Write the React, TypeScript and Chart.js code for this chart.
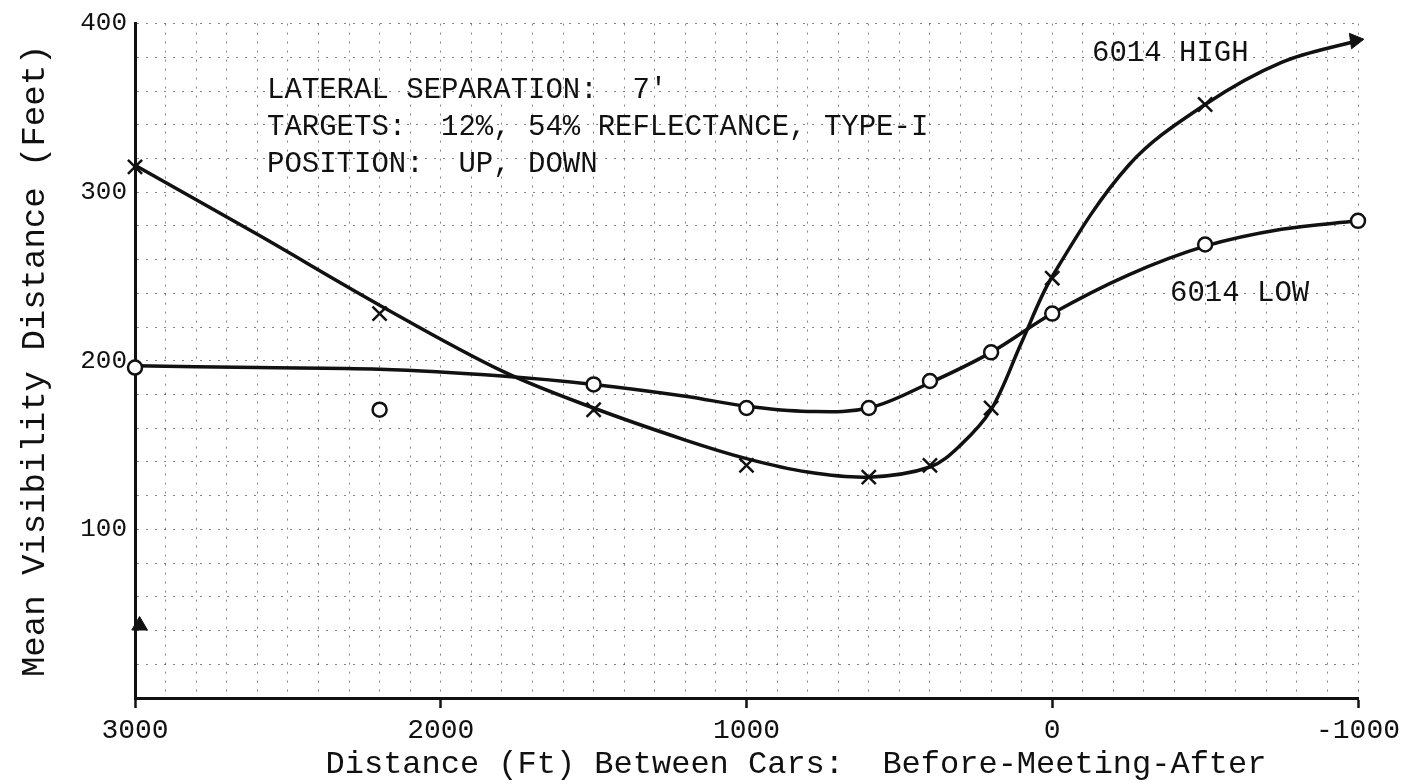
import React, { useEffect, useRef } from "react";
import { Chart, registerables } from "chart.js";

Chart.register(...registerables);

// ---- data ----
const markerX = [3000, 2200, 1500, 1000, 600, 400, 200, 0, -500, -1000];
const highMarkerX = [3000, 2200, 1500, 1000, 600, 400, 200, 0, -500];
const highMarkers = [315, 228, 171, 138, 131, 138, 172, 249, 352];
const lowMarkers = [196, 171, 186, 172, 172, 188, 205, 228, 269, 283];

const highCurveX = [3000, 2600, 2200, 1800, 1500, 1200, 1000, 800, 600, 400, 300, 200, 100, 0, -250, -500, -750, -1000];
const highCurveY = [316, 275, 233, 194, 172, 153, 142, 134, 131, 137, 150, 171, 211, 250, 316, 352, 377, 390];
const lowCurveX = [3000, 2600, 2200, 1800, 1500, 1200, 1000, 800, 600, 400, 200, 0, -250, -500, -750, -1000];
const lowCurveY = [197, 196, 195, 191, 186, 179, 173, 170, 172, 187, 205, 228, 251, 268, 278, 283];

const arrowPoint = [{ x: -990, y: 390 }];
const axisMarker = [{ x: 2985, y: 43 }];

const xTickLabels = [3000, 2000, 1000, 0, -1000];
const yTickLabels = [100, 200, 300, 400];

const noteLines = [
  "LATERAL SEPARATION:  7'",
  "TARGETS:  12%, 54% REFLECTANCE, TYPE-I",
  "POSITION:  UP, DOWN",
];
const highLabel = "6014 HIGH";
const lowLabel = "6014 LOW";
const xTitle = "Distance (Ft) Between Cars:  Before-Meeting-After";
const yTitle = "Mean Visibility Distance (Feet)";

const MONO = "'Liberation Mono', 'DejaVu Sans Mono', monospace";

const zip = (xs: number[], ys: number[]) => xs.map((x, i) => ({ x, y: ys[i] }));

const textPlugin = {
  id: "notes",
  afterDraw(chart: any) {
    const { ctx, chartArea } = chart;
    ctx.save();
    ctx.fillStyle = "#111";
    ctx.textAlign = "left";
    ctx.textBaseline = "alphabetic";
    ctx.font = `29px ${MONO}`;
    const left = chartArea.left + 132;
    noteLines.forEach((t, i) => ctx.fillText(t, left, chartArea.top + 74 + i * 37));
    ctx.fillText(highLabel, chartArea.left + 957, chartArea.top + 37);
    ctx.fillText(lowLabel, chartArea.left + 1035, chartArea.top + 277);
    ctx.font = `32px ${MONO}`;
    ctx.textAlign = "center";
    ctx.textBaseline = "middle";
    ctx.fillText(xTitle, chartArea.left + 661, chartArea.bottom + 67);
    ctx.restore();
  },
};

export default function App() {
  const ref = useRef<HTMLCanvasElement | null>(null);

  useEffect(() => {
    if (!ref.current) return;
    const chart = new Chart(ref.current, {
      type: "scatter",
      data: {
        datasets: [
          {
            label: "6014 HIGH points",
            data: zip(highMarkerX, highMarkers),
            pointStyle: "crossRot",
            pointRadius: 10,
            borderColor: "#111",
            backgroundColor: "#111",
            pointBorderWidth: 2.5,
            showLine: false,
          },
          {
            label: "6014 LOW points",
            data: zip(markerX, lowMarkers),
            pointStyle: "circle",
            pointRadius: 7,
            borderColor: "#111",
            backgroundColor: "#fff",
            pointBorderWidth: 2.5,
            showLine: false,
          },
          {
            label: "arrow",
            data: arrowPoint,
            pointStyle: "triangle",
            rotation: 82,
            pointRadius: 9,
            borderColor: "#111",
            backgroundColor: "#111",
            showLine: false,
          },
          {
            label: "axis marker",
            data: axisMarker,
            pointStyle: "triangle",
            pointRadius: 9,
            borderColor: "#111",
            backgroundColor: "#111",
            showLine: false,
          },
          {
            label: "6014 HIGH",
            data: zip(highCurveX, highCurveY),
            showLine: true,
            borderColor: "#111",
            borderWidth: 3.5,
            pointRadius: 0,
            tension: 0.35,
          },
          {
            label: "6014 LOW",
            data: zip(lowCurveX, lowCurveY),
            showLine: true,
            borderColor: "#111",
            borderWidth: 3.5,
            pointRadius: 0,
            tension: 0.35,
          },
        ],
      },
      options: {
        animation: false,
        responsive: false,
        clip: false as any,
        layout: { padding: { top: 20, right: 52, left: 0, bottom: 0 } },
        plugins: { legend: { display: false }, tooltip: { enabled: false } },
        scales: {
          x: {
            type: "linear",
            reverse: true,
            min: -1000,
            max: 3000,
            afterFit: (s: any) => {
              s.height = 86;
            },
            ticks: {
              stepSize: 100,
              autoSkip: false,
              maxRotation: 0,
              padding: 6,
              color: "#111",
              font: { family: MONO, size: 28 },
              callback: (v: any) => (xTickLabels.includes(Number(v)) ? String(v) : ""),
            },
            grid: {
              color: "rgba(50,50,50,0.6)",
              lineWidth: 1,
              drawTicks: true,
              tickLength: 10,
              tickWidth: 2.5,
              tickColor: (c: any) =>
                c.tick && xTickLabels.includes(c.tick.value) ? "#111" : "rgba(0,0,0,0)",
            },
            border: { display: true, color: "#111", width: 3, dash: [2, 7] },
          },
          y: {
            type: "linear",
            min: 0,
            max: 400,
            afterFit: (s: any) => {
              s.width = 135;
            },
            title: {
              display: true,
              text: yTitle,
              color: "#111",
              font: { family: MONO, size: 34 },
              padding: { top: 15, bottom: 0 },
            },
            ticks: {
              stepSize: 20,
              autoSkip: false,
              padding: 8,
              color: "#111",
              font: { family: MONO, size: 26 },
              callback: (v: any) => (yTickLabels.includes(Number(v)) ? String(v) : ""),
            },
            grid: {
              color: "rgba(50,50,50,0.6)",
              lineWidth: 1,
              drawTicks: false,
            },
            border: { display: true, color: "#111", width: 3, dash: [2, 7] },
          },
        },
      },
      plugins: [textPlugin],
    } as any);
    return () => chart.destroy();
  }, []);

  return (
    <div
      style={{
        position: "fixed",
        left: 0,
        top: 0,
        width: 1410,
        height: 784,
        background: "#fff",
      }}
    >
      <canvas ref={ref} width={1410} height={784} />
    </div>
  );
}
